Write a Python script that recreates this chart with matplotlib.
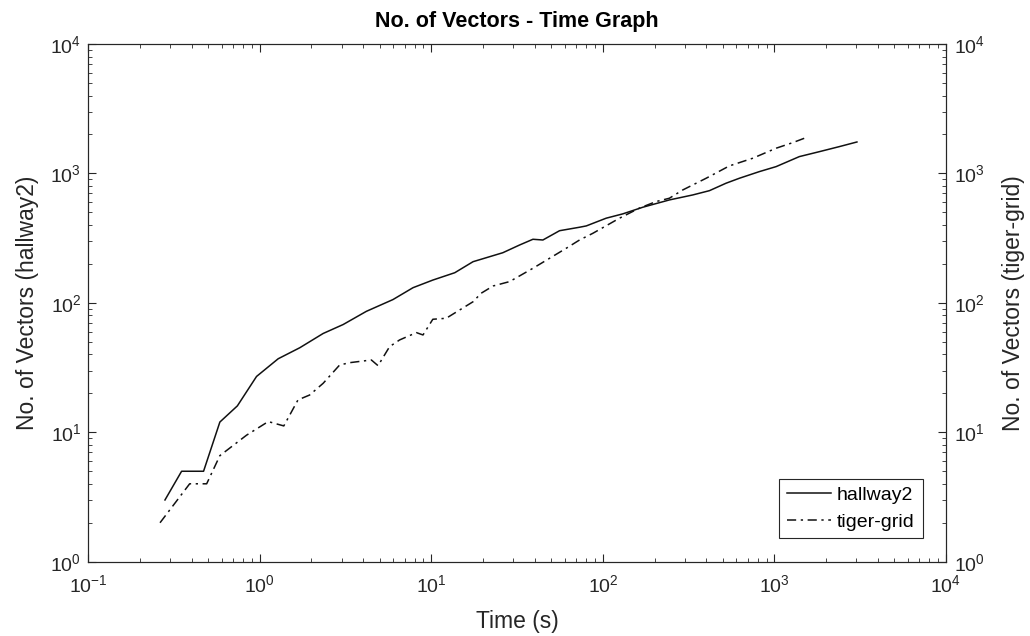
import matplotlib
matplotlib.use("Agg")
import matplotlib.pyplot as plt
from matplotlib.ticker import LogLocator, NullFormatter

plt.rcParams['font.family'] = ['Liberation Sans', 'DejaVu Sans']
plt.rcParams['mathtext.default'] = 'regular'

# ---- data ----
hallway_t = [0.28, 0.35, 0.47, 0.585, 0.74, 0.957, 1.28, 1.71, 2.34, 3.06, 4.18, 5.97,
             7.82, 10.2, 13.7, 17.5, 26.1, 32.7, 39.1, 44.7, 55.9, 73.1, 80, 104.5,
             130.6, 170.8, 244, 334, 418, 522, 625, 817, 1023, 1397, 1828, 2388, 3027]
hallway_n = [3, 5, 5, 12, 16, 27, 37, 45, 58, 68, 86, 106,
             131, 150, 171, 208, 244, 280, 310, 306, 361, 384, 393, 451,
             487, 548, 624, 682, 736, 840, 918, 1033, 1129, 1349, 1473, 1611, 1750]

tiger_t = [0.262, 0.39, 0.49, 0.585, 0.837, 1.12, 1.38, 1.67, 1.95, 2.34, 2.92, 3.34,
           4.47, 4.89, 5.71, 6.53, 8.18, 8.94, 10.2, 12.2, 17.5, 19.5, 22.9, 28.6,
           39.1, 48.9, 61.1, 73.1, 87.5, 125, 163, 204, 244, 292, 400, 546, 747,
           1023, 1279, 1496]
tiger_n = [2, 4, 4, 6.6, 9.5, 12.1, 11.2, 17.8, 19.4, 23.9, 33.1, 34.5,
           36.2, 32.7, 45.9, 51.7, 58.9, 56.5, 74.7, 76, 102, 118.6, 135, 146,
           185, 221, 264, 306, 345, 451, 539, 606, 643, 745, 918, 1143, 1310,
           1566, 1730, 1871]

title = "No. of Vectors - Time Graph"
xlabel = "Time (s)"
ylabel_left = "No. of Vectors (hallway2)"
ylabel_right = "No. of Vectors (tiger-grid)"
labels = ["hallway2", "tiger-grid"]

axcol = '#262626'
fs_tick = 14
fs_label = 16.5
fs_title = 15.5
fs_leg = 14

fig = plt.figure(figsize=(10.30, 6.36), dpi=100)
ax = fig.add_axes([0.0857, 0.1168, 0.8327, 0.814])
ax2 = ax.twinx()

l1, = ax.plot(hallway_t, hallway_n, color='#111111', lw=1.1, linestyle='-')
l2, = ax2.plot(tiger_t, tiger_n, color='#111111', lw=1.1, linestyle=(0, (6, 3, 1.5, 3)))

for a in (ax, ax2):
    a.set_xscale('log')
    a.set_yscale('log')
    a.set_xlim(0.1, 1e4)
    a.set_ylim(1, 1e4)
    a.yaxis.set_major_locator(LogLocator(base=10, numticks=10))
    a.yaxis.set_minor_locator(LogLocator(base=10, subs=range(2, 10), numticks=10))
    a.yaxis.set_minor_formatter(NullFormatter())
    for s in a.spines.values():
        s.set_color(axcol)
        s.set_linewidth(0.8)

ax.xaxis.set_major_locator(LogLocator(base=10, numticks=10))
ax.xaxis.set_minor_locator(LogLocator(base=10, subs=range(2, 10), numticks=10))
ax.xaxis.set_minor_formatter(NullFormatter())

ax.tick_params(which='both', direction='in', top=True, right=False, colors=axcol,
               labelsize=fs_tick, labelcolor=axcol)
ax.tick_params(which='major', length=6, width=0.8)
ax.tick_params(which='minor', length=3, width=0.6)
ax.tick_params(axis='x', pad=9)
ax.tick_params(axis='y', pad=5)
ax2.tick_params(which='both', direction='in', colors=axcol, labelsize=fs_tick, labelcolor=axcol)
ax2.tick_params(which='major', length=6, width=0.8)
ax2.tick_params(which='minor', length=3, width=0.6)
ax2.tick_params(axis='y', pad=6)
ax2.tick_params(axis='x', top=False, bottom=False)

ax.set_title(title, fontsize=fs_title, fontweight='bold', color='black', pad=12)
ax.set_xlabel(xlabel, fontsize=fs_label, color=axcol, labelpad=10)
ax.set_ylabel(ylabel_left, fontsize=fs_label, color=axcol, labelpad=8.5)
ax2.set_ylabel(ylabel_right, fontsize=fs_label, color=axcol, labelpad=12)

leg = ax2.legend([l1, l2], labels, loc='lower right', fontsize=fs_leg,
                 fancybox=False, framealpha=1, edgecolor=axcol,
                 handlelength=2.3, borderaxespad=1.2, borderpad=0.4,
                 labelspacing=0.45, handletextpad=0.3)
leg.get_frame().set_linewidth(0.8)

fig.savefig("out.png", dpi=100)
